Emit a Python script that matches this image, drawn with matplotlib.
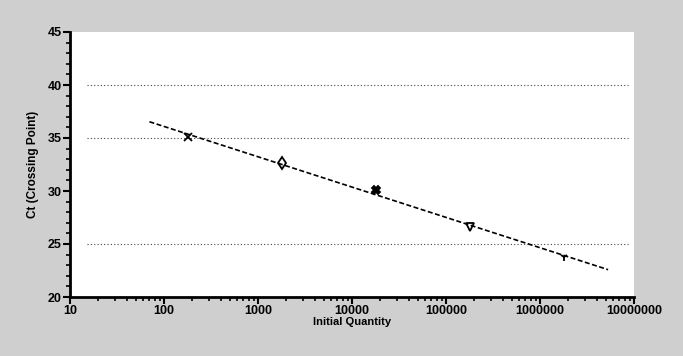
import matplotlib.pyplot as plt
import numpy as np
from matplotlib.ticker import LogLocator, MultipleLocator

# Data
quantity = [180, 1800, 18000, 180000, 1800000]
ct_values = [35.1, 32.6, 30.1, 26.6, 23.8]
markers = ['x', 'd', 'X', 'v', '1']
trend_x = [70, 5300000]
grid_levels = [25, 35, 40]
x_ticks = [10, 100, 1000, 10000, 100000, 1000000, 10000000]
x_labels = ['10', '100', '1000', '10000', '100000', '1000000', '10000000']

plt.rcParams['font.family'] = 'Liberation Sans'
plt.rcParams['font.weight'] = 'bold'

fig = plt.figure(figsize=(6.83, 3.56), dpi=100)
fig.patch.set_facecolor('#cfcfcf')
ax = fig.add_axes([70/683, 1-297/356, 564/683, 265/356])
ax.set_facecolor('white')

# trend line from least squares fit in log space
slope, icpt = np.polyfit(np.log10(quantity), ct_values, 1)
ty = [slope*np.log10(v) + icpt for v in trend_x]
ax.plot(trend_x, ty, color='black', lw=1.2, ls=(0, (3, 1.5)), zorder=2)

for q, c, m in zip(quantity, ct_values, markers):
    ax.plot(q, c, marker=m, color='black', ms=6, mfc='none' if m in ('d', 'v') else 'black',
            mew=1.3, ls='none', zorder=3)

for g in grid_levels:
    ax.axhline(g, xmin=0.03, xmax=0.99, color='#444444', lw=0.8, ls=(0, (1, 2)), zorder=1)

ax.set_xscale('log')
ax.set_xlim(10, 10000000)
ax.set_ylim(20, 45)
ax.set_xticks(x_ticks)
ax.set_xticklabels(x_labels)
ax.xaxis.set_minor_locator(LogLocator(base=10, subs=np.arange(2, 10)))
ax.xaxis.set_minor_formatter(plt.NullFormatter())
ax.yaxis.set_major_locator(MultipleLocator(5))
ax.yaxis.set_minor_locator(MultipleLocator(1))

for s in ['top', 'right']:
    ax.spines[s].set_visible(False)
ax.spines['left'].set_linewidth(2)
ax.spines['bottom'].set_linewidth(2)

ax.tick_params(axis='both', which='major', direction='out', length=5, width=1.5,
               labelsize=9, pad=1)
ax.tick_params(axis='both', which='minor', direction='out', length=3, width=1.2)

ax.set_xlabel('Initial Quantity', fontsize=8, fontweight='bold', labelpad=0)
ax.set_ylabel('Ct (Crossing Point)', fontsize=8.5, fontweight='bold', labelpad=6)

fig.savefig('out.png', dpi=100, facecolor=fig.get_facecolor())
